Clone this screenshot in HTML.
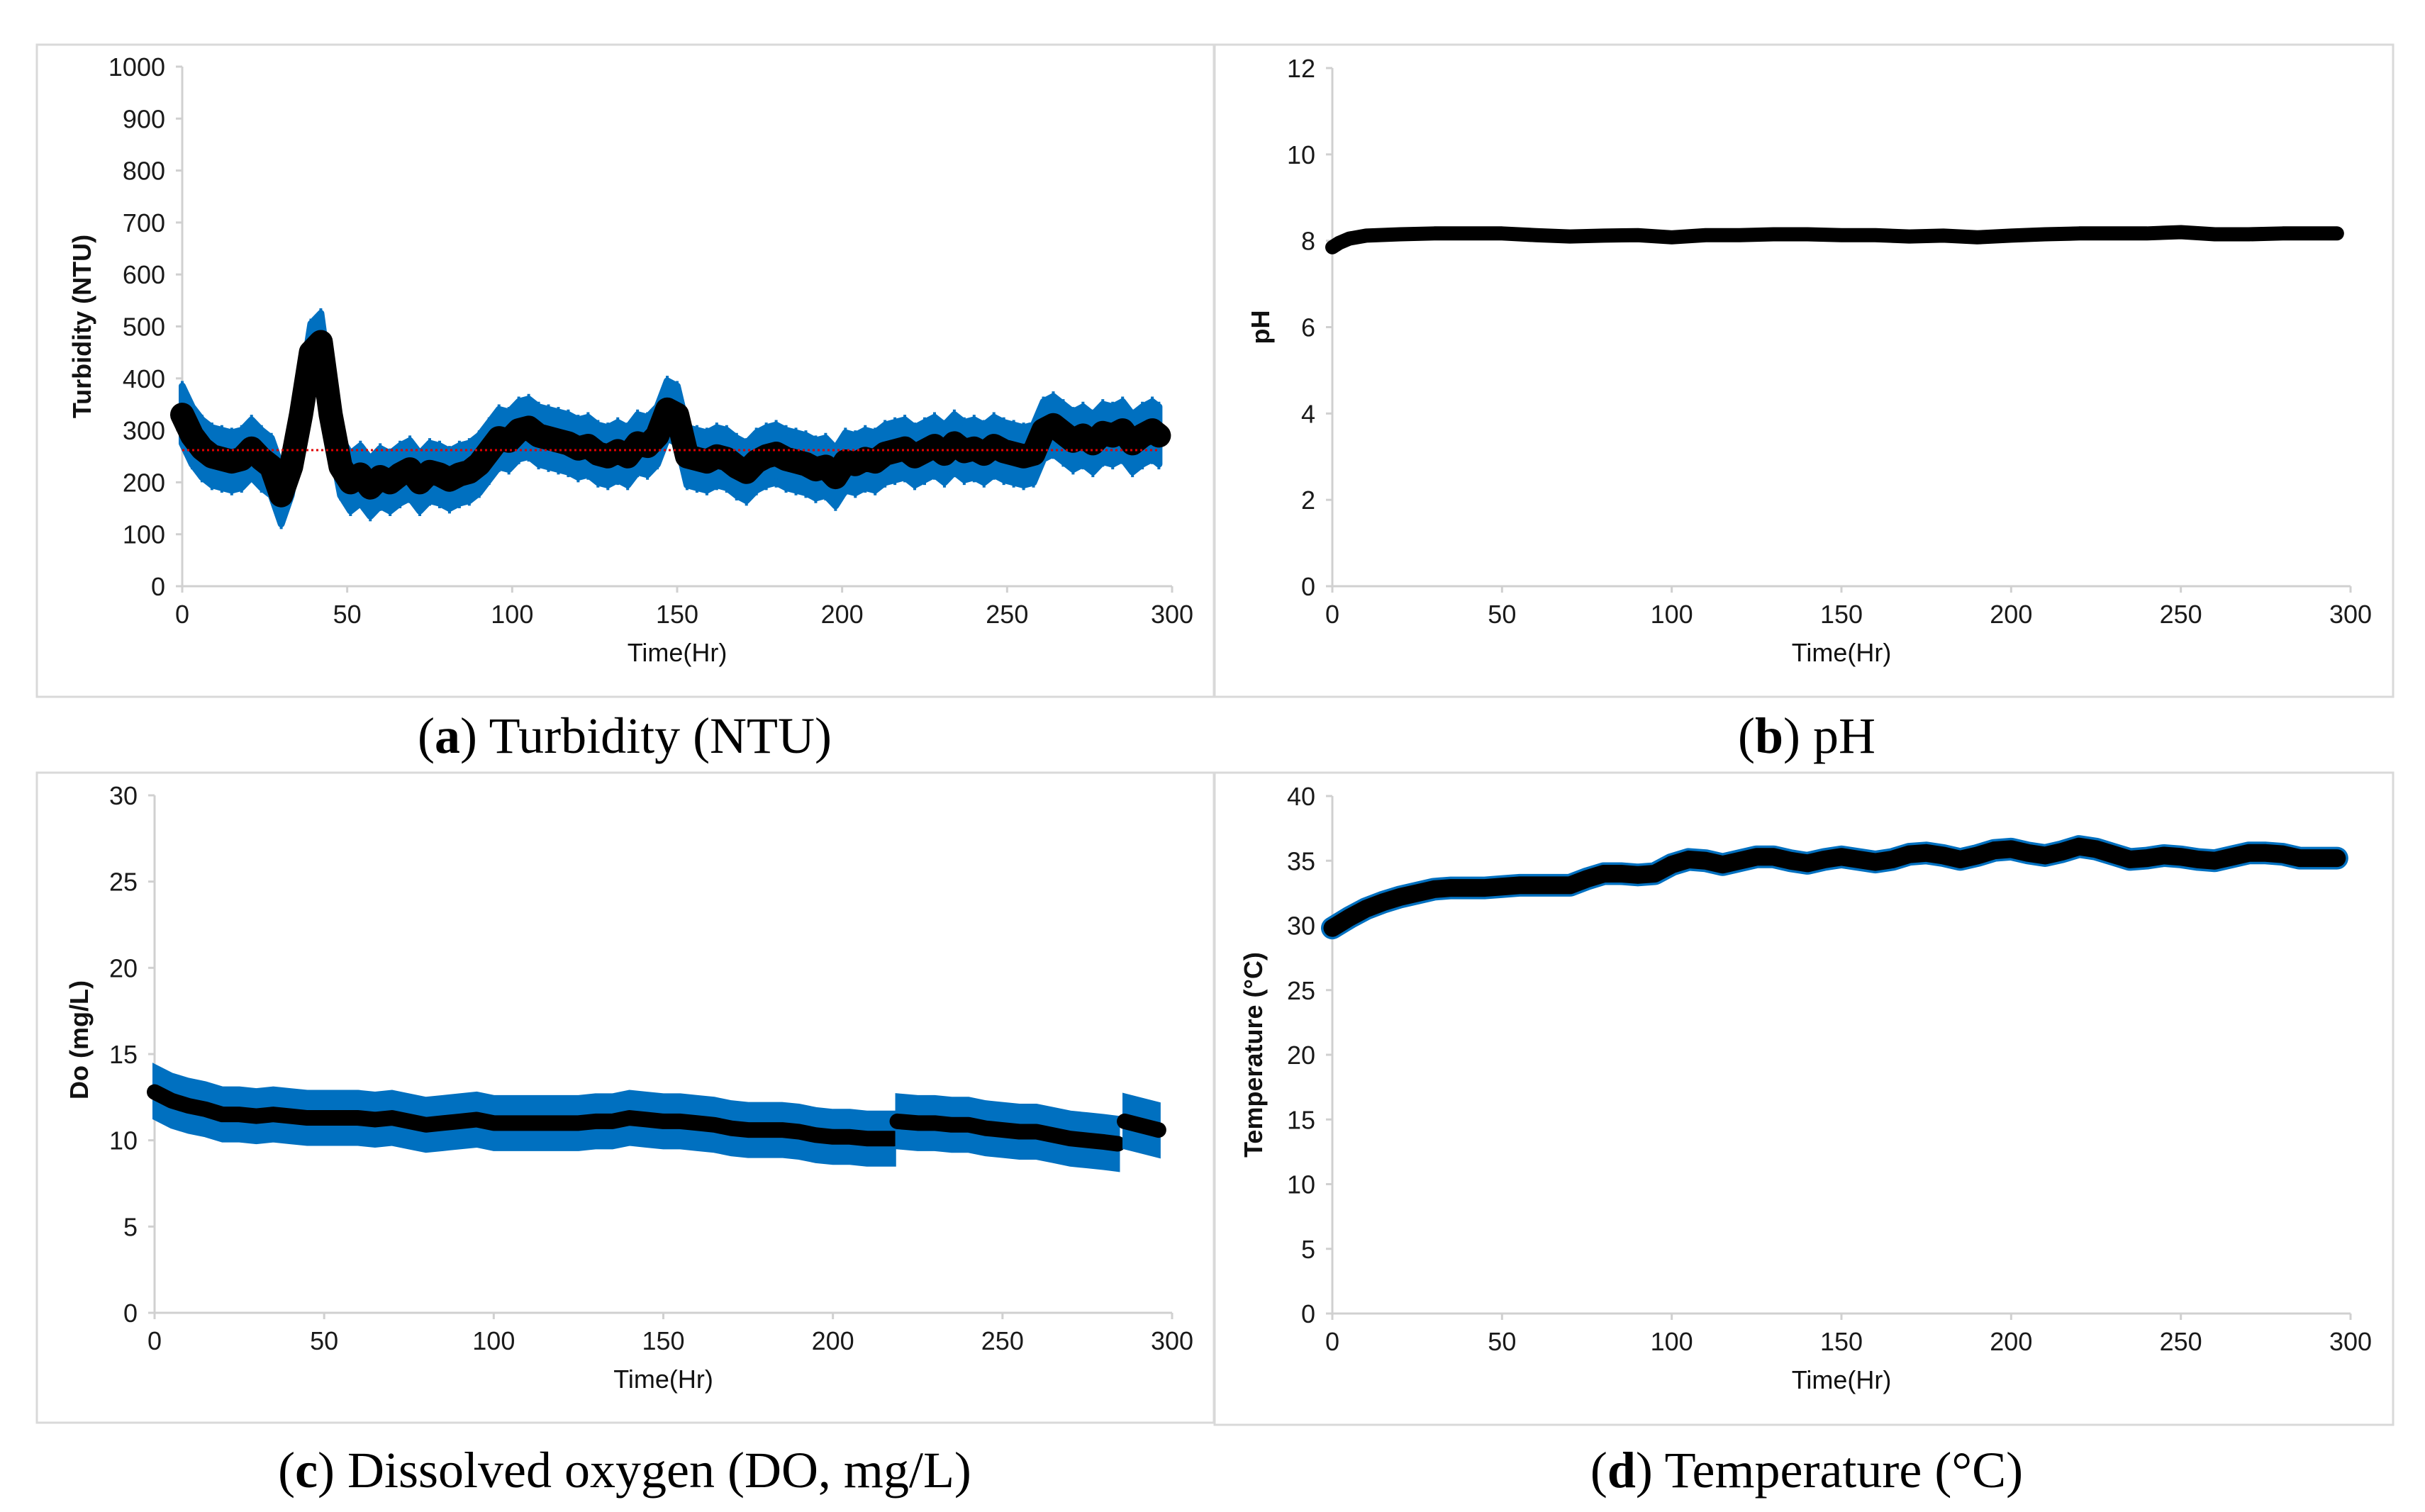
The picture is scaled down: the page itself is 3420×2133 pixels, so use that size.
<!DOCTYPE html>
<html><head><meta charset="utf-8"><style>
html,body{margin:0;padding:0;background:#fff;}
svg{display:block;}
.tick{font-family:"Liberation Sans",sans-serif;font-size:36px;fill:#1a1a1a;}
.ttl{font-family:"Liberation Sans",sans-serif;font-size:36px;fill:#111;}
.cap{font-family:"Liberation Serif",serif;font-size:72px;fill:#000;}
</style></head><body>
<svg id="fig" width="3420" height="2133" viewBox="0 0 3420 2133" xmlns="http://www.w3.org/2000/svg">
<rect x="0" y="0" width="3420" height="2133" fill="#fff"/>
<rect x="52" y="63" width="1660" height="920" fill="none" stroke="#d9d9d9" stroke-width="3"/>
<rect x="1713" y="63" width="1662" height="920" fill="none" stroke="#d9d9d9" stroke-width="3"/>
<rect x="52" y="1090" width="1660" height="917" fill="none" stroke="#d9d9d9" stroke-width="3"/>
<rect x="1713" y="1090" width="1662" height="920" fill="none" stroke="#d9d9d9" stroke-width="3"/>
<text class="cap" x="881" y="1062" text-anchor="middle">(<tspan font-weight="bold">a</tspan>) Turbidity (NTU)</text>
<text class="cap" x="2548" y="1062" text-anchor="middle">(<tspan font-weight="bold">b</tspan>) pH</text>
<text class="cap" x="881" y="2098" text-anchor="middle">(<tspan font-weight="bold">c</tspan>) Dissolved oxygen (DO, mg/L)</text>
<text class="cap" x="2548" y="2098" text-anchor="middle">(<tspan font-weight="bold">d</tspan>) Temperature (°C)</text>
</svg>
<script>
// ---- data ----
const xTicks = [0,50,100,150,200,250,300];
const turbTicks = [0,100,200,300,400,500,600,700,800,900,1000];
const phTicks = [0,2,4,6,8,10,12];
const doTicks = [0,5,10,15,20,25,30];
const tempTicks = [0,5,10,15,20,25,30,35,40];

const turbTime = [0,3,6,9,12,15,18,21,24,27,30,33,36,39,42,45,48,51,54,57,60,63,66,69,72,75,78,81,84,87,90,93,96,99,102,105,108,111,114,117,120,123,126,129,132,135,138,141,144,147,150,153,156,159,162,165,168,171,174,177,180,183,186,189,192,195,198,201,204,207,210,213,216,219,222,225,228,231,234,237,240,243,246,249,252,255,258,261,264,267,270,273,276,279,282,285,288,291,294,296];
const turbValues = [330,290,265,250,245,240,245,265,245,230,175,230,330,450,470,330,230,200,215,190,210,200,215,225,200,220,215,205,215,220,235,260,285,280,300,305,290,285,280,275,265,270,255,250,260,250,275,270,290,340,330,250,245,240,250,245,230,220,240,250,255,245,240,235,225,230,210,240,235,245,240,255,260,265,250,260,270,255,275,260,265,255,270,260,255,250,255,300,310,295,280,290,275,295,290,300,275,290,300,290];
const turbError = 55;
const turbMean = [262];

const phTime = [0,2,5,10,20,30,40,50,60,70,80,90,100,110,120,130,140,150,160,170,180,190,200,210,220,230,240,250,260,270,280,290,296];
const phValues = [7.85,7.95,8.05,8.12,8.15,8.17,8.17,8.17,8.13,8.1,8.12,8.13,8.08,8.13,8.13,8.15,8.15,8.13,8.13,8.1,8.12,8.08,8.12,8.15,8.17,8.17,8.17,8.2,8.15,8.15,8.17,8.17,8.17];

const doTime1 = [0,5,10,15,20,25,30,35,40,45,50,55,60,65,70,75,80,85,90,95,100,105,110,115,120,125,130,135,140,145,150,155,160,165,170,175,180,185,190,195,200,205,210,215,218];
const doValues1 = [12.8,12.3,12.0,11.8,11.5,11.5,11.4,11.5,11.4,11.3,11.3,11.3,11.3,11.2,11.3,11.1,10.9,11.0,11.1,11.2,11.0,11.0,11.0,11.0,11.0,11.0,11.1,11.1,11.3,11.2,11.1,11.1,11.0,10.9,10.7,10.6,10.6,10.6,10.5,10.3,10.2,10.2,10.1,10.1,10.1];
const doTime2 = [219,225,230,235,240,245,250,255,260,265,270,275,280,284];
const doValues2 = [11.1,11.0,11.0,10.9,10.9,10.7,10.6,10.5,10.5,10.3,10.1,10.0,9.9,9.8];
const doTime3 = [286,290,294,296];
const doValues3 = [11.1,10.9,10.7,10.6];
const doError = 1.5;

const tempTime = [0,5,10,15,20,25,30,35,40,45,50,55,60,65,70,75,80,85,90,95,100,105,110,115,120,125,130,135,140,145,150,155,160,165,170,175,180,185,190,195,200,205,210,215,220,225,230,235,240,245,250,255,260,265,270,275,280,285,290,296];
const tempValues = [29.8,30.6,31.3,31.8,32.2,32.5,32.8,32.9,32.9,32.9,33.0,33.1,33.1,33.1,33.1,33.6,34.0,34.0,33.9,34.0,34.7,35.1,35.0,34.7,35.0,35.3,35.3,35.0,34.8,35.1,35.3,35.1,34.9,35.1,35.5,35.6,35.4,35.1,35.4,35.8,35.9,35.6,35.4,35.7,36.1,35.9,35.5,35.1,35.2,35.4,35.3,35.1,35.0,35.3,35.6,35.6,35.5,35.2,35.2,35.2];

// ---- drawing ----
const NS = "http://www.w3.org/2000/svg";
const svg = document.getElementById('fig');
function mk(tag, attrs){ const e=document.createElementNS(NS,tag); for(const k in attrs) e.setAttribute(k,attrs[k]); svg.appendChild(e); return e; }

function axes(p){
  const sx = v => p.x0 + (v - 0) / 300 * (p.x1 - p.x0);
  const sy = v => p.y0 - v / p.ymax * (p.y0 - p.y1);
  const ya = mk('line',{x1:p.x0,y1:p.y0,x2:p.x0,y2:p.y1,stroke:'#d0d0d0','stroke-width':3});
  
  
  const xa = mk('line',{x1:p.x0,y1:p.y0,x2:p.x1,y2:p.y0,stroke:'#d0d0d0','stroke-width':3});
  
  
  p.yt.forEach(v=>{
    const y=sy(v);
    mk('line',{x1:p.x0-9,y1:y,x2:p.x0,y2:y,stroke:'#d0d0d0','stroke-width':3});
    const t=mk('text',{x:p.x0-24,y:y+13,'text-anchor':'end',class:'tick'});
    t.textContent=v;
    
    
  });
  xTicks.forEach(v=>{
    const x=sx(v);
    mk('line',{x1:x,y1:p.y0,x2:x,y2:p.y0+9,stroke:'#d0d0d0','stroke-width':3});
    const t=mk('text',{x:x,y:p.y0+52,'text-anchor':'middle',class:'tick'});
    t.textContent=v;
    
    
  });
  const xt=mk('text',{x:(p.x0+p.x1)/2,y:p.y0+106,'text-anchor':'middle',class:'ttl'});
  xt.textContent='Time(Hr)';
  
  
  const yc=(p.y0+p.y1)/2 + (p.ydy||0);
  const ytl=mk('text',{x:p.yx,y:yc,'text-anchor':'middle',class:'ttl','font-weight':'bold',transform:`rotate(-90 ${p.yx} ${yc})`});
  ytl.textContent=p.ytitle;
  
  
  return {sx,sy};
}

// Panel a
(function(){
  const {sx,sy}=axes({id:'turbidity',x0:257,x1:1653,y0:827,y1:94,ymax:1000,yt:turbTicks,yx:128,ytitle:'Turbidity (NTU)'});
  const up=turbTime.map((t,i)=>sx(t)+','+sy(turbValues[i]+turbError));
  const lo=turbTime.map((t,i)=>sx(t)+','+sy(turbValues[i]-turbError)).reverse();
  const band=mk('polygon',{points:up.concat(lo).join(' '),fill:'#0070c0',stroke:'#0070c0','stroke-width':10,'stroke-linejoin':'round'});
  
  
  turbTime.forEach((t,i)=>{
    const x=sx(t), v=turbValues[i];
    const eb=mk('line',{x1:x,y1:sy(v+turbError+10),x2:x,y2:sy(v-turbError-10),stroke:'#0070c0','stroke-width':4});
    
    
  });
  const pts=turbTime.map((t,i)=>sx(t)+','+sy(turbValues[i])).join(' ');
  const ln=mk('polyline',{points:pts,fill:'none',stroke:'#000','stroke-width':34,'stroke-linejoin':'round','stroke-linecap':'round'});
  
  
  turbTime.forEach((t,i)=>{
    const c=mk('circle',{cx:sx(t),cy:sy(turbValues[i]),r:15,fill:'#000'});
    
    
  });
  const m=mk('line',{x1:sx(0),y1:sy(turbMean[0]),x2:sx(296),y2:sy(turbMean[0]),stroke:'#e00000','stroke-width':3,'stroke-dasharray':'3 4'});
  
  
})();

// Panel b
(function(){
  const {sx,sy}=axes({id:'ph',x0:1879,x1:3315,y0:827,y1:96,ymax:12,yt:phTicks,yx:1790,ytitle:'pH'});
  const pts=phTime.map((t,i)=>sx(t)+','+sy(phValues[i])).join(' ');
  const ln=mk('polyline',{points:pts,fill:'none',stroke:'#000','stroke-width':20,'stroke-linejoin':'round','stroke-linecap':'round'});
  
  
})();

// Panel c
(function(){
  const {sx,sy}=axes({id:'do',x0:218,x1:1653,y0:1852,y1:1122,ymax:30,yt:doTicks,yx:124,ytitle:'Do (mg/L)',ydy:-20});
  [[doTime1,doValues1],[doTime2,doValues2],[doTime3,doValues3]].forEach(([T,V],s)=>{
    const up=T.map((t,i)=>sx(t)+','+sy(V[i]+doError));
    const lo=T.map((t,i)=>sx(t)+','+sy(V[i]-doError)).reverse();
    const band=mk('polygon',{points:up.concat(lo).join(' '),fill:'#0070c0',stroke:'#0070c0','stroke-width':6});
    
    
    const ln=mk('polyline',{points:T.map((t,i)=>sx(t)+','+sy(V[i])).join(' '),fill:'none',stroke:'#000','stroke-width':22,'stroke-linejoin':'round','stroke-linecap':'round'});
    
    
  });
})();

// Panel d
(function(){
  const {sx,sy}=axes({id:'temperature',x0:1879,x1:3315,y0:1853,y1:1123,ymax:40,yt:tempTicks,yx:1780,ytitle:'Temperature (°C)'});
  const pts=tempTime.map((t,i)=>sx(t)+','+sy(tempValues[i])).join(' ');
  const b=mk('polyline',{points:pts,fill:'none',stroke:'#0070c0','stroke-width':32,'stroke-linejoin':'round','stroke-linecap':'round'});
  
  
  const ln=mk('polyline',{points:pts,fill:'none',stroke:'#000','stroke-width':25,'stroke-linejoin':'round','stroke-linecap':'round'});
  
  
})();
</script>
</body></html>
